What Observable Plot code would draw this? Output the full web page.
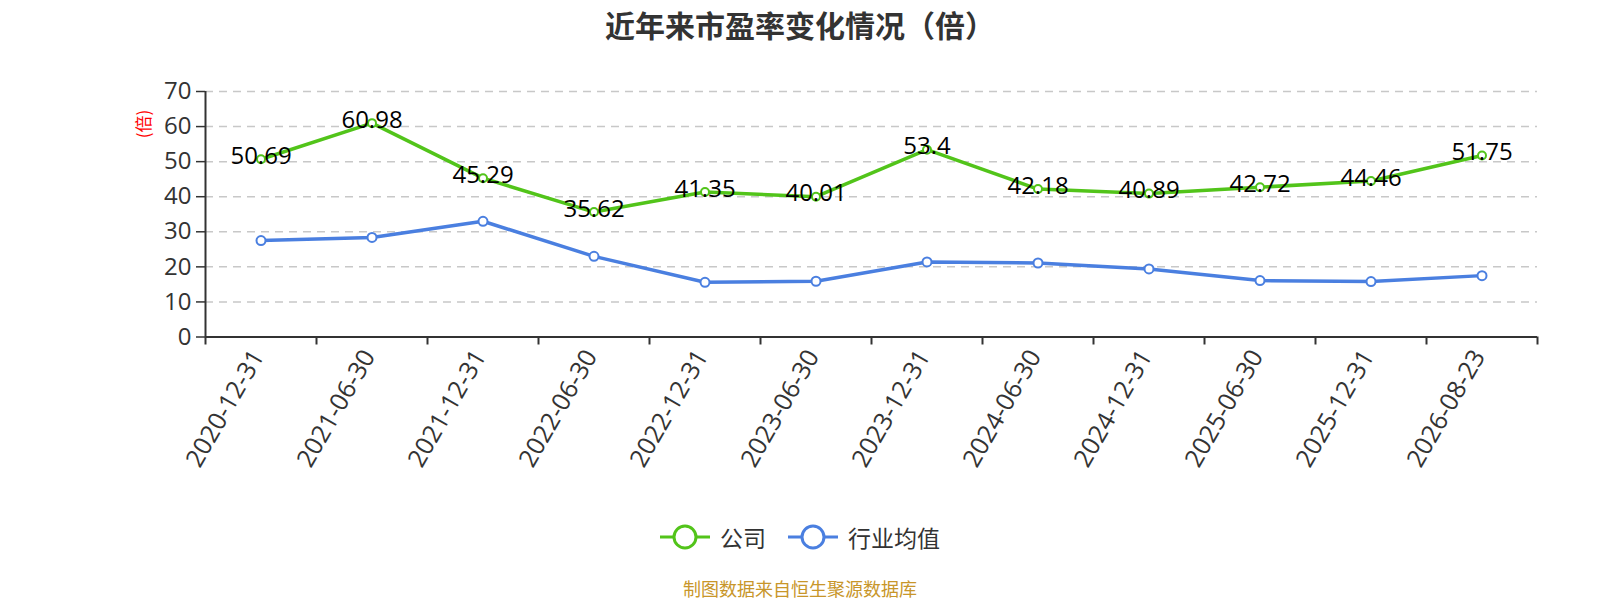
<!DOCTYPE html>
<html>
<head>
<meta charset="utf-8">
<script src="https://cdn.jsdelivr.net/npm/d3@7"></script>
<script src="https://cdn.jsdelivr.net/npm/@observablehq/plot@0.6"></script>
<style>
  body { margin: 0; background: #fff; }
  #wrap { position: relative; width: 1600px; height: 600px; background: #fff; overflow: hidden;
          font-family: 'Open Sans', 'Noto Sans CJK SC', sans-serif; }
  #title { position: absolute; left: 0; width: 1600px; top: 2px; text-align: center;
           font-family: 'Noto Sans CJK SC', sans-serif; font-weight: bold; font-size: 30px; color: #333; }
  #plot { position: absolute; left: 0; top: 0; }
  #ylabel { position: absolute; left: 142px; top: 124px; transform: translate(-50%, -50%) rotate(-90deg);
            color: #f00; font-size: 17px; font-family: 'Noto Sans CJK SC', sans-serif; white-space: nowrap; }
  #legend { position: absolute; left: 0; width: 1600px; top: 520px; display: flex; justify-content: center;
            align-items: center; gap: 22px; font-family: 'Noto Sans CJK SC', sans-serif; font-size: 23px; color: #333; }
  .item { display: flex; align-items: center; gap: 10px; }
  #caption { position: absolute; left: 0; width: 1600px; top: 575px; text-align: center;
             font-family: 'Noto Sans CJK SC', sans-serif; font-size: 18px; color: #c8962a; }
</style>
</head>
<body>
<div id="wrap">
  <div id="title">近年来市盈率变化情况（倍）</div>
  <div id="plot"></div>
  <div id="ylabel">(倍)</div>
  <div id="legend"></div>
  <div id="caption">制图数据来自恒生聚源数据库</div>
</div>
<script>
const categories = ["2020-12-31","2021-06-30","2021-12-31","2022-06-30","2022-12-31","2023-06-30","2023-12-31","2024-06-30","2024-12-31","2025-06-30","2025-12-31","2026-08-23"];
const companyValues = [50.69, 60.98, 45.29, 35.62, 41.35, 40.01, 53.4, 42.18, 40.89, 42.72, 44.46, 51.75];
const industryValues = [27.5, 28.4, 33.0, 23.0, 15.6, 15.9, 21.4, 21.1, 19.4, 16.1, 15.8, 17.5];
const yTicks = [0, 10, 20, 30, 40, 50, 60, 70];
const seriesNames = ["公司", "行业均值"];
const colors = ["#52c41a", "#4a7fe0"];

const n = categories.length;
const idx = d3.range(n);
const boundaries = d3.range(n + 1).map(i => i - 0.5);
const company = idx.map(i => ({i, v: companyValues[i]}));
const industry = idx.map(i => ({i, v: industryValues[i]}));

const chart = Plot.plot({
  width: 1600,
  height: 500,
  marginLeft: 205,
  marginRight: 63,
  marginTop: 91,
  marginBottom: 163.5,
  style: {fontFamily: "'Open Sans','Noto Sans CJK SC',sans-serif", background: "transparent", overflow: "visible"},
  x: {type: "linear", domain: [boundaries[0], boundaries[n]], axis: null},
  y: {domain: [yTicks[0], yTicks[yTicks.length - 1]], axis: null},
  marks: [
    Plot.ruleY(yTicks.slice(1), {stroke: "#c8c8c8", strokeWidth: 1.5, strokeDasharray: "8,6"}),
    Plot.axisY(yTicks, {tickSize: 9, tickPadding: 5, fontSize: 24, stroke: "#333", fill: "#333", strokeWidth: 1.5, label: null}),
    Plot.axisX(boundaries, {tickSize: 8, tickFormat: () => "", stroke: "#333", strokeWidth: 2, label: null}),
    Plot.axisX(idx, {tickSize: 0, tickPadding: 15, dx: -3, tickRotate: -60, tickFormat: i => categories[i], fontSize: 25, fill: "#333", label: null}),
    Plot.ruleX([boundaries[0]], {stroke: "#333", strokeWidth: 2}),
    Plot.ruleY([yTicks[0]], {stroke: "#333", strokeWidth: 2}),
    Plot.line(company, {x: "i", y: "v", stroke: colors[0], strokeWidth: 3.5}),
    Plot.line(industry, {x: "i", y: "v", stroke: colors[1], strokeWidth: 3.5}),
    Plot.dot(company, {x: "i", y: "v", r: 4, fill: "#fff", stroke: colors[0], strokeWidth: 2}),
    Plot.dot(industry, {x: "i", y: "v", r: 4.5, fill: "#fff", stroke: colors[1], strokeWidth: 2}),
    Plot.text(company, {x: "i", y: "v", text: d => String(d.v), fontSize: 24, fill: "#000", dy: -3})
  ]
});
document.getElementById("plot").appendChild(chart);

const legend = document.getElementById("legend");
seriesNames.forEach((name, k) => {
  const item = document.createElement("div");
  item.className = "item";
  item.innerHTML = `<svg width="50" height="28"><line x1="0" y1="14" x2="50" y2="14" stroke="${colors[k]}" stroke-width="3"/><circle cx="25" cy="14" r="11" fill="#fff" stroke="${colors[k]}" stroke-width="3"/></svg><span>${name}</span>`;
  legend.appendChild(item);
});
</script>
</body>
</html>
